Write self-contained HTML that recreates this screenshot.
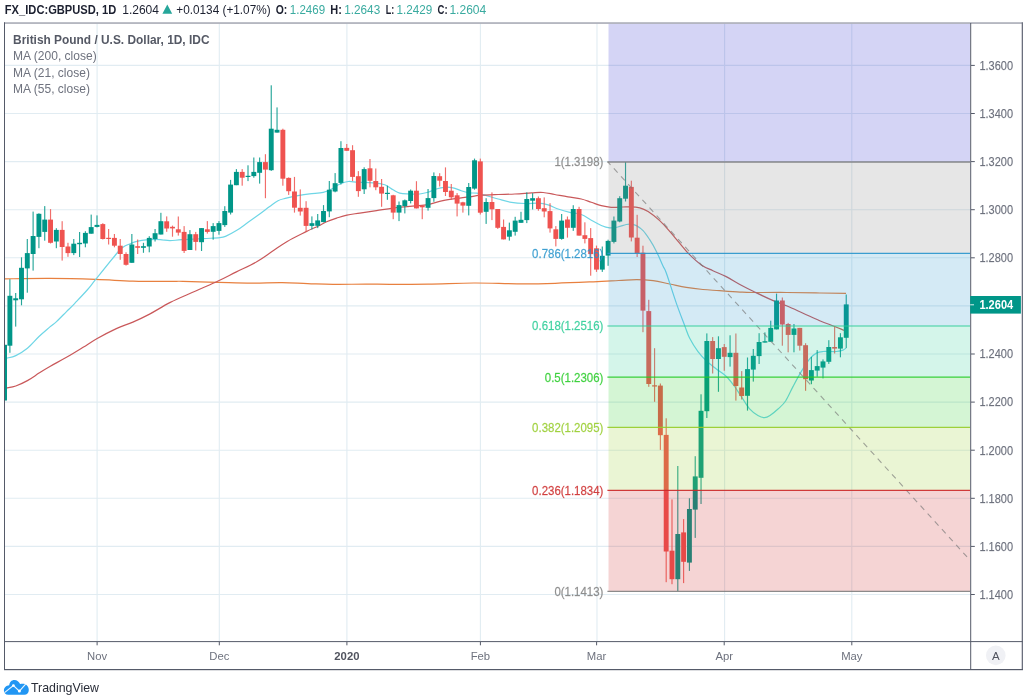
<!DOCTYPE html>
<html lang="en"><head><meta charset="utf-8"><title>GBPUSD chart</title>
<style>html,body{margin:0;padding:0;background:#fff;}body{width:1023px;height:699px;overflow:hidden;font-family:"Liberation Sans",sans-serif;}svg{display:block}</style>
</head><body>
<svg width="1023" height="699" viewBox="0 0 1023 699" font-family="'Liberation Sans', sans-serif">
<rect width="1023" height="699" fill="#fff"/>
<defs><clipPath id="cp"><rect x="5" y="23.5" width="965.2" height="617.6"/></clipPath></defs>
<g stroke="#e1ecf2" stroke-width="1.1"><line x1="5" x2="970" y1="65.4" y2="65.4"/><line x1="5" x2="970" y1="113.5" y2="113.5"/><line x1="5" x2="970" y1="161.6" y2="161.6"/><line x1="5" x2="970" y1="209.7" y2="209.7"/><line x1="5" x2="970" y1="257.8" y2="257.8"/><line x1="5" x2="970" y1="305.9" y2="305.9"/><line x1="5" x2="970" y1="354.0" y2="354.0"/><line x1="5" x2="970" y1="402.1" y2="402.1"/><line x1="5" x2="970" y1="450.2" y2="450.2"/><line x1="5" x2="970" y1="498.3" y2="498.3"/><line x1="5" x2="970" y1="546.4" y2="546.4"/><line x1="5" x2="970" y1="594.5" y2="594.5"/><line x1="97.1" x2="97.1" y1="23.5" y2="641"/><line x1="219.3" x2="219.3" y1="23.5" y2="641"/><line x1="346.9" x2="346.9" y1="23.5" y2="641"/><line x1="480.4" x2="480.4" y1="23.5" y2="641"/><line x1="597.0" x2="597.0" y1="23.5" y2="641"/><line x1="724.6" x2="724.6" y1="23.5" y2="641"/><line x1="851.8" x2="851.8" y1="23.5" y2="641"/></g>
<g clip-path="url(#cp)">
<path d="M5.0,278.9C13.1,278.8 33.6,278.3 49.9,278.4C66.2,278.5 80.5,278.9 95.5,279.4C110.5,279.9 119.6,280.7 133.0,281.1C146.4,281.5 161.0,281.4 170.0,281.4C179.0,281.4 174.3,281.1 183.0,281.3C191.7,281.5 206.2,282.1 218.6,282.4C231.0,282.7 240.3,283.1 251.7,283.1C263.1,283.1 272.0,282.5 282.1,282.6C292.2,282.7 298.4,283.3 307.6,283.6C316.8,283.9 322.5,284.3 333.0,284.4C343.5,284.5 355.7,284.1 366.0,284.1C376.3,284.1 378.8,284.3 390.0,284.3C401.2,284.3 412.9,284.3 428.0,284.1C443.1,283.9 457.9,283.1 473.9,283.0C489.9,282.9 502.4,283.7 517.0,283.8C531.6,283.9 541.5,283.7 555.2,283.3C568.9,282.9 581.9,282.3 593.3,281.8C604.7,281.3 610.9,280.9 618.7,280.5C626.5,280.1 630.3,279.6 636.5,279.6C642.7,279.6 647.1,279.9 653.1,280.7C659.1,281.5 663.7,282.8 669.7,284.0C675.7,285.2 680.3,286.4 686.3,287.4C692.3,288.4 696.9,288.9 702.9,289.5C708.9,290.1 712.9,290.2 719.6,290.7C726.3,291.2 734.0,291.8 740.0,292.1C746.0,292.4 744.8,292.4 753.2,292.5C761.6,292.6 774.5,292.4 786.5,292.5C798.5,292.6 809.0,292.9 819.7,293.0C830.4,293.1 841.3,293.2 846.0,293.3" fill="none" stroke="#e8803f" stroke-width="1.2"/>
<path d="M5.0,358.6C5.3,358.5 4.7,358.6 6.6,358.1C8.5,357.6 12.1,357.4 15.8,355.6C19.5,353.8 23.2,351.6 27.4,348.2C31.6,344.8 35.0,340.3 39.0,336.5C43.0,332.7 46.8,329.6 49.9,326.9C53.0,324.2 53.5,324.4 56.5,321.6C59.5,318.8 63.2,314.9 66.5,311.6C69.8,308.3 71.1,307.2 74.8,303.3C78.5,299.4 83.5,294.2 87.2,290.0C90.9,285.8 90.3,286.2 95.5,279.7C100.7,273.2 111.3,259.8 116.3,254.0C121.2,248.2 120.6,249.1 123.0,247.3C125.4,245.5 126.9,245.1 129.6,244.0C132.3,242.9 134.9,241.9 137.9,241.2C140.9,240.5 143.0,240.2 146.2,239.9C149.3,239.6 152.6,239.4 155.4,239.4C158.2,239.4 159.4,239.6 162.0,239.8C164.6,240.0 166.5,240.6 170.0,240.6C173.5,240.6 175.6,240.1 181.6,239.7C187.6,239.3 196.3,239.0 203.2,238.6C210.1,238.2 215.6,238.2 219.8,237.7C224.0,237.2 223.5,237.2 226.5,235.9C229.5,234.6 232.5,233.0 236.4,230.6C240.3,228.2 243.9,225.3 248.1,222.3C252.3,219.3 255.8,216.8 259.7,214.0C263.6,211.2 266.4,208.9 269.7,206.5C273.0,204.1 275.0,202.2 278.0,200.7C281.0,199.2 282.7,199.1 286.3,198.2C289.9,197.3 293.7,196.5 297.9,195.7C302.1,194.9 305.0,194.4 309.6,193.8C314.2,193.2 319.3,193.2 323.3,192.3C327.3,191.4 328.6,190.5 331.6,189.0C334.6,187.5 336.9,185.3 339.9,184.0C342.9,182.7 344.9,181.8 348.2,181.5C351.5,181.2 353.7,182.1 358.2,182.3C362.7,182.5 368.3,182.4 373.1,182.8C377.9,183.2 381.2,183.5 384.8,184.8C388.4,186.1 390.4,188.3 393.1,189.8C395.8,191.3 396.7,192.3 399.7,193.1C402.7,193.9 406.1,193.8 409.7,194.0C413.3,194.2 416.4,194.3 419.7,194.0C423.0,193.7 425.0,193.2 428.0,192.3C431.0,191.4 433.3,189.9 436.3,189.0C439.3,188.1 441.6,187.5 444.6,187.3C447.6,187.1 449.9,187.2 452.9,187.8C455.9,188.4 458.2,189.8 461.2,190.7C464.2,191.6 466.7,192.4 469.5,192.8C472.3,193.2 474.2,192.8 477.0,193.2C479.8,193.6 481.1,194.2 484.9,195.2C488.7,196.2 493.4,197.7 498.2,199.0C503.0,200.3 506.7,201.5 511.5,202.3C516.3,203.1 520.0,203.3 524.8,203.5C529.6,203.7 533.9,203.0 538.1,203.2C542.3,203.4 544.5,203.8 548.1,204.8C551.7,205.8 554.2,207.7 558.1,209.0C562.0,210.3 565.5,211.3 569.7,212.3C573.9,213.3 577.4,213.1 581.3,214.5C585.2,215.9 587.7,218.2 591.3,220.2C594.9,222.2 598.0,224.1 601.3,225.5C604.6,226.9 606.6,227.6 609.6,227.9C612.6,228.2 614.9,227.6 617.9,227.0C620.9,226.4 623.7,225.0 626.2,224.5C628.7,224.0 630.2,224.1 632.0,224.3C633.8,224.5 634.4,224.5 636.4,225.6C638.4,226.7 640.7,228.1 643.1,230.6C645.5,233.1 647.3,236.0 649.7,239.7C652.1,243.4 654.0,246.7 656.4,251.4C658.8,256.1 661.2,262.1 663.0,266.0C664.8,269.9 664.0,266.5 666.4,273.2C668.8,279.9 673.0,293.7 676.3,303.1C679.6,312.5 682.3,319.3 684.7,325.6C687.1,331.9 687.3,333.6 689.7,338.3C692.1,343.0 695.0,347.6 698.0,351.6C701.0,355.6 703.0,357.6 706.3,360.7C709.6,363.8 712.7,366.2 716.3,369.0C719.9,371.8 723.0,373.4 726.3,376.5C729.6,379.6 731.9,382.9 734.6,386.5C737.3,390.1 738.5,392.4 741.2,396.4C743.9,400.4 746.6,405.5 749.6,408.9C752.6,412.3 755.2,413.9 757.9,415.5C760.6,417.1 762.3,417.7 764.5,417.7C766.7,417.7 767.6,417.1 770.0,415.5C772.4,413.9 775.2,411.6 778.0,409.0C780.8,406.4 782.9,405.1 785.6,401.0C788.3,396.9 790.3,391.7 793.1,386.4C795.9,381.1 798.4,376.3 801.4,371.4C804.4,366.4 807.0,362.2 809.7,358.9C812.4,355.6 814.0,354.4 816.4,353.1C818.8,351.8 819.4,351.8 823.0,351.5C826.6,351.2 832.7,351.8 836.3,351.5C839.9,351.2 841.3,350.7 843.0,350.1C844.7,349.5 845.5,348.5 846.0,348.1" fill="none" stroke="#6fd6e6" stroke-width="1.2"/>
<path d="M5.0,388.3C5.3,388.2 4.7,388.4 6.6,388.0C8.5,387.6 12.1,387.3 15.8,386.0C19.5,384.7 23.2,382.9 27.4,380.6C31.6,378.3 35.0,375.7 39.0,373.1C43.0,370.5 44.9,369.2 49.9,366.4C54.9,363.6 60.5,360.7 66.5,357.3C72.5,353.9 77.6,350.7 83.1,347.3C88.6,343.9 91.2,341.9 97.2,338.5C103.2,335.1 109.9,331.6 116.3,328.6C122.7,325.6 126.9,324.7 132.9,322.1C138.9,319.5 142.9,317.6 149.6,314.1C156.3,310.6 162.0,306.6 170.3,302.4C178.6,298.2 187.0,294.9 195.7,291.0C204.4,287.1 211.3,284.2 218.6,280.8C225.9,277.4 229.5,275.3 236.4,271.9C243.3,268.5 250.3,265.5 256.7,261.8C263.1,258.1 266.5,255.3 272.0,251.6C277.5,247.9 281.0,245.0 287.2,241.4C293.4,237.8 300.6,234.4 306.2,231.6C311.8,228.8 314.6,227.8 318.3,226.0C322.0,224.2 323.3,223.1 326.6,221.7C329.9,220.3 332.9,219.3 336.6,218.1C340.3,216.9 342.7,216.0 346.9,215.1C351.1,214.2 354.5,213.9 359.8,213.1C365.1,212.3 370.5,211.5 376.5,210.6C382.5,209.7 387.1,208.9 393.1,208.1C399.1,207.3 403.7,207.0 409.7,206.4C415.7,205.8 420.3,205.8 426.3,204.8C432.3,203.8 436.9,201.8 442.9,200.6C448.9,199.4 454.7,198.8 459.6,198.1C464.5,197.4 466.0,197.3 470.0,196.8C474.0,196.3 476.5,195.6 481.6,195.2C486.7,194.8 492.2,194.7 498.2,194.5C504.2,194.3 508.9,194.3 514.9,194.0C520.9,193.7 526.4,193.2 531.5,192.9C536.6,192.6 538.9,192.2 543.1,192.5C547.3,192.8 550.2,193.7 554.7,194.5C559.2,195.3 563.2,196.1 568.0,196.9C572.8,197.7 577.1,198.0 581.3,199.0C585.5,200.0 587.7,201.1 591.3,202.3C594.9,203.5 597.7,204.8 601.3,205.7C604.9,206.6 607.3,207.1 611.2,207.3C615.1,207.5 619.6,207.1 622.9,207.0C626.2,206.9 626.8,206.7 629.8,206.8C632.8,206.9 636.5,207.0 639.8,207.8C643.1,208.6 644.5,209.2 648.1,211.5C651.7,213.8 655.8,217.0 659.7,220.6C663.6,224.2 666.1,227.3 669.7,231.4C673.3,235.5 676.0,238.9 679.6,243.1C683.2,247.3 685.7,250.8 689.6,254.7C693.5,258.6 697.1,262.0 701.3,264.9C705.5,267.8 708.4,268.6 712.9,270.7C717.4,272.8 721.2,274.0 726.2,276.6C731.2,279.2 735.9,282.4 740.8,285.0C745.7,287.6 748.0,288.8 753.2,291.3C758.4,293.8 763.8,296.5 769.8,299.1C775.8,301.7 780.5,303.3 786.5,305.8C792.5,308.3 797.1,310.5 803.1,313.2C809.1,315.9 814.0,318.3 819.7,320.7C825.4,323.1 830.4,324.8 834.7,326.5C839.0,328.2 841.8,329.4 843.8,330.2C845.8,331.0 845.6,330.9 846.0,331.0" fill="none" stroke="#c9585a" stroke-width="1.2"/>
<rect x="3.97" y="344.8" width="1.15" height="55.7" fill="#009688" opacity="0.85"/><rect x="2.10" y="344.8" width="4.9" height="55.7" fill="#009688"/><rect x="9.31" y="279.2" width="1.15" height="73.6" fill="#009688" opacity="0.85"/><rect x="7.43" y="295.8" width="4.9" height="49.9" fill="#009688"/><rect x="15.11" y="293.0" width="1.15" height="33.6" fill="#009688" opacity="0.85"/><rect x="13.24" y="298.3" width="4.9" height="2.0" fill="#009688"/><rect x="20.92" y="257.3" width="1.15" height="48.0" fill="#009688" opacity="0.85"/><rect x="19.05" y="267.8" width="4.9" height="31.5" fill="#009688"/><rect x="26.73" y="239.0" width="1.15" height="53.7" fill="#009688" opacity="0.85"/><rect x="24.85" y="253.1" width="4.9" height="15.3" fill="#009688"/><rect x="32.54" y="211.6" width="1.15" height="59.0" fill="#009688" opacity="0.85"/><rect x="30.66" y="236.0" width="4.9" height="18.0" fill="#009688"/><rect x="38.34" y="213.3" width="1.15" height="34.9" fill="#009688" opacity="0.85"/><rect x="36.47" y="213.8" width="4.9" height="23.1" fill="#009688"/><rect x="44.15" y="206.1" width="1.15" height="34.6" fill="#009688" opacity="0.85"/><rect x="42.28" y="219.6" width="4.9" height="12.3" fill="#009688"/><rect x="49.96" y="209.1" width="1.15" height="34.4" fill="#ef5350" opacity="0.85"/><rect x="48.09" y="219.6" width="4.9" height="23.2" fill="#ef5350"/><rect x="55.77" y="228.2" width="1.15" height="20.0" fill="#009688" opacity="0.85"/><rect x="53.89" y="229.9" width="4.9" height="11.6" fill="#009688"/><rect x="61.58" y="221.2" width="1.15" height="39.4" fill="#ef5350" opacity="0.85"/><rect x="59.70" y="229.9" width="4.9" height="17.1" fill="#ef5350"/><rect x="67.38" y="242.8" width="1.15" height="14.0" fill="#ef5350" opacity="0.85"/><rect x="65.51" y="246.5" width="4.9" height="6.6" fill="#ef5350"/><rect x="73.19" y="239.0" width="1.15" height="16.1" fill="#009688" opacity="0.85"/><rect x="71.32" y="243.7" width="4.9" height="9.4" fill="#009688"/><rect x="79.00" y="232.0" width="1.15" height="25.0" fill="#009688" opacity="0.85"/><rect x="77.13" y="242.8" width="4.9" height="1.4" fill="#009688"/><rect x="84.81" y="231.2" width="1.15" height="16.1" fill="#009688" opacity="0.85"/><rect x="82.93" y="232.9" width="4.9" height="10.6" fill="#009688"/><rect x="90.62" y="214.6" width="1.15" height="19.1" fill="#009688" opacity="0.85"/><rect x="88.74" y="227.1" width="4.9" height="6.6" fill="#009688"/><rect x="96.42" y="215.4" width="1.15" height="12.0" fill="#009688" opacity="0.85"/><rect x="94.55" y="224.9" width="4.9" height="2.0" fill="#009688"/><rect x="102.23" y="223.2" width="1.15" height="16.3" fill="#ef5350" opacity="0.85"/><rect x="100.36" y="224.1" width="4.9" height="14.9" fill="#ef5350"/><rect x="108.04" y="229.0" width="1.15" height="15.5" fill="#ef5350" opacity="0.85"/><rect x="106.17" y="237.8" width="4.9" height="1.2" fill="#ef5350"/><rect x="113.85" y="234.0" width="1.15" height="13.3" fill="#ef5350" opacity="0.85"/><rect x="111.97" y="237.9" width="4.9" height="7.8" fill="#ef5350"/><rect x="119.66" y="239.0" width="1.15" height="20.8" fill="#ef5350" opacity="0.85"/><rect x="117.78" y="245.7" width="4.9" height="8.3" fill="#ef5350"/><rect x="125.46" y="252.3" width="1.15" height="13.3" fill="#ef5350" opacity="0.85"/><rect x="123.59" y="254.0" width="4.9" height="10.8" fill="#ef5350"/><rect x="131.27" y="234.0" width="1.15" height="28.8" fill="#009688" opacity="0.85"/><rect x="129.40" y="244.5" width="4.9" height="18.3" fill="#009688"/><rect x="137.08" y="239.5" width="1.15" height="14.5" fill="#ef5350" opacity="0.85"/><rect x="135.21" y="246.2" width="4.9" height="1.6" fill="#ef5350"/><rect x="142.89" y="242.8" width="1.15" height="10.0" fill="#009688" opacity="0.85"/><rect x="141.01" y="246.2" width="4.9" height="1.6" fill="#009688"/><rect x="148.70" y="236.2" width="1.15" height="16.1" fill="#009688" opacity="0.85"/><rect x="146.82" y="237.9" width="4.9" height="8.6" fill="#009688"/><rect x="154.50" y="229.0" width="1.15" height="12.5" fill="#009688" opacity="0.85"/><rect x="152.63" y="233.2" width="4.9" height="5.8" fill="#009688"/><rect x="160.31" y="212.8" width="1.15" height="21.7" fill="#009688" opacity="0.85"/><rect x="158.44" y="221.2" width="4.9" height="13.3" fill="#009688"/><rect x="166.12" y="216.4" width="1.15" height="15.4" fill="#ef5350" opacity="0.85"/><rect x="164.25" y="221.3" width="4.9" height="7.2" fill="#ef5350"/><rect x="171.93" y="225.6" width="1.15" height="11.1" fill="#ef5350" opacity="0.85"/><rect x="170.05" y="226.8" width="4.9" height="1.6" fill="#ef5350"/><rect x="177.74" y="216.5" width="1.15" height="19.1" fill="#ef5350" opacity="0.85"/><rect x="175.86" y="229.3" width="4.9" height="3.3" fill="#ef5350"/><rect x="183.55" y="226.1" width="1.15" height="26.9" fill="#ef5350" opacity="0.85"/><rect x="181.67" y="231.9" width="4.9" height="19.0" fill="#ef5350"/><rect x="189.35" y="230.1" width="1.15" height="19.9" fill="#009688" opacity="0.85"/><rect x="187.48" y="234.2" width="4.9" height="15.8" fill="#009688"/><rect x="195.16" y="231.9" width="1.15" height="18.6" fill="#ef5350" opacity="0.85"/><rect x="193.29" y="234.2" width="4.9" height="7.7" fill="#ef5350"/><rect x="200.97" y="228.1" width="1.15" height="22.9" fill="#009688" opacity="0.85"/><rect x="199.09" y="228.1" width="4.9" height="14.1" fill="#009688"/><rect x="206.78" y="221.1" width="1.15" height="12.5" fill="#ef5350" opacity="0.85"/><rect x="204.90" y="229.3" width="4.9" height="2.6" fill="#ef5350"/><rect x="212.59" y="223.1" width="1.15" height="16.6" fill="#009688" opacity="0.85"/><rect x="210.71" y="226.1" width="4.9" height="5.7" fill="#009688"/><rect x="218.39" y="221.1" width="1.15" height="13.6" fill="#009688" opacity="0.85"/><rect x="216.52" y="223.1" width="4.9" height="7.8" fill="#009688"/><rect x="224.20" y="206.2" width="1.15" height="20.7" fill="#009688" opacity="0.85"/><rect x="222.33" y="211.0" width="4.9" height="14.1" fill="#009688"/><rect x="230.01" y="179.9" width="1.15" height="34.6" fill="#009688" opacity="0.85"/><rect x="228.13" y="184.6" width="4.9" height="28.0" fill="#009688"/><rect x="235.82" y="169.1" width="1.15" height="16.1" fill="#009688" opacity="0.85"/><rect x="233.94" y="171.9" width="4.9" height="13.3" fill="#009688"/><rect x="241.62" y="169.1" width="1.15" height="16.6" fill="#ef5350" opacity="0.85"/><rect x="239.75" y="171.9" width="4.9" height="5.8" fill="#ef5350"/><rect x="247.43" y="165.3" width="1.15" height="15.8" fill="#009688" opacity="0.85"/><rect x="245.56" y="175.8" width="4.9" height="1.2" fill="#009688"/><rect x="253.24" y="157.5" width="1.15" height="20.2" fill="#009688" opacity="0.85"/><rect x="251.37" y="171.9" width="4.9" height="4.2" fill="#009688"/><rect x="259.05" y="157.5" width="1.15" height="26.1" fill="#009688" opacity="0.85"/><rect x="257.17" y="162.1" width="4.9" height="10.7" fill="#009688"/><rect x="264.86" y="154.2" width="1.15" height="44.0" fill="#ef5350" opacity="0.85"/><rect x="262.98" y="162.1" width="4.9" height="7.5" fill="#ef5350"/><rect x="270.67" y="85.3" width="1.15" height="85.6" fill="#009688" opacity="0.85"/><rect x="268.79" y="128.7" width="4.9" height="41.5" fill="#009688"/><rect x="276.47" y="107.4" width="1.15" height="25.2" fill="#009688" opacity="0.85"/><rect x="274.60" y="129.8" width="4.9" height="2.8" fill="#009688"/><rect x="282.28" y="128.7" width="1.15" height="57.0" fill="#ef5350" opacity="0.85"/><rect x="280.41" y="129.8" width="4.9" height="48.9" fill="#ef5350"/><rect x="288.09" y="177.4" width="1.15" height="17.5" fill="#ef5350" opacity="0.85"/><rect x="286.21" y="177.9" width="4.9" height="13.3" fill="#ef5350"/><rect x="293.90" y="176.9" width="1.15" height="35.7" fill="#ef5350" opacity="0.85"/><rect x="292.02" y="191.5" width="4.9" height="16.2" fill="#ef5350"/><rect x="299.70" y="189.4" width="1.15" height="26.2" fill="#ef5350" opacity="0.85"/><rect x="297.83" y="207.8" width="4.9" height="3.7" fill="#ef5350"/><rect x="305.51" y="201.2" width="1.15" height="30.6" fill="#ef5350" opacity="0.85"/><rect x="303.64" y="207.8" width="4.9" height="18.1" fill="#ef5350"/><rect x="311.32" y="216.4" width="1.15" height="13.1" fill="#009688" opacity="0.85"/><rect x="309.45" y="223.2" width="4.9" height="2.7" fill="#009688"/><rect x="317.13" y="214.0" width="1.15" height="14.1" fill="#009688" opacity="0.85"/><rect x="315.25" y="220.4" width="4.9" height="5.4" fill="#009688"/><rect x="322.94" y="205.1" width="1.15" height="17.2" fill="#009688" opacity="0.85"/><rect x="321.06" y="211.0" width="4.9" height="11.1" fill="#009688"/><rect x="328.75" y="181.0" width="1.15" height="36.2" fill="#009688" opacity="0.85"/><rect x="326.87" y="189.7" width="4.9" height="21.7" fill="#009688"/><rect x="334.55" y="173.1" width="1.15" height="19.2" fill="#009688" opacity="0.85"/><rect x="332.68" y="183.2" width="4.9" height="8.3" fill="#009688"/><rect x="340.36" y="141.2" width="1.15" height="43.3" fill="#009688" opacity="0.85"/><rect x="338.49" y="148.0" width="4.9" height="34.9" fill="#009688"/><rect x="346.17" y="144.0" width="1.15" height="6.8" fill="#ef5350" opacity="0.85"/><rect x="344.29" y="147.9" width="4.9" height="2.9" fill="#ef5350"/><rect x="351.98" y="145.2" width="1.15" height="35.9" fill="#ef5350" opacity="0.85"/><rect x="350.10" y="150.2" width="4.9" height="26.7" fill="#ef5350"/><rect x="357.79" y="171.1" width="1.15" height="25.7" fill="#ef5350" opacity="0.85"/><rect x="355.91" y="176.2" width="4.9" height="14.9" fill="#ef5350"/><rect x="363.59" y="167.3" width="1.15" height="26.7" fill="#009688" opacity="0.85"/><rect x="361.72" y="169.1" width="4.9" height="20.2" fill="#009688"/><rect x="369.40" y="159.0" width="1.15" height="28.3" fill="#ef5350" opacity="0.85"/><rect x="367.53" y="168.3" width="4.9" height="12.5" fill="#ef5350"/><rect x="375.21" y="168.5" width="1.15" height="21.7" fill="#ef5350" opacity="0.85"/><rect x="373.33" y="181.0" width="4.9" height="6.3" fill="#ef5350"/><rect x="381.02" y="179.0" width="1.15" height="27.8" fill="#ef5350" opacity="0.85"/><rect x="379.14" y="186.8" width="4.9" height="6.8" fill="#ef5350"/><rect x="386.82" y="185.7" width="1.15" height="14.1" fill="#009688" opacity="0.85"/><rect x="384.95" y="192.8" width="4.9" height="1.2" fill="#009688"/><rect x="392.63" y="194.8" width="1.15" height="24.4" fill="#ef5350" opacity="0.85"/><rect x="390.76" y="195.3" width="4.9" height="17.3" fill="#ef5350"/><rect x="398.44" y="201.5" width="1.15" height="19.6" fill="#009688" opacity="0.85"/><rect x="396.57" y="205.1" width="4.9" height="7.5" fill="#009688"/><rect x="404.25" y="199.5" width="1.15" height="13.9" fill="#009688" opacity="0.85"/><rect x="402.37" y="200.3" width="4.9" height="5.8" fill="#009688"/><rect x="410.06" y="189.5" width="1.15" height="13.9" fill="#009688" opacity="0.85"/><rect x="408.18" y="190.7" width="4.9" height="10.3" fill="#009688"/><rect x="415.87" y="181.2" width="1.15" height="27.2" fill="#ef5350" opacity="0.85"/><rect x="413.99" y="190.7" width="4.9" height="17.7" fill="#ef5350"/><rect x="421.67" y="205.6" width="1.15" height="13.6" fill="#ef5350" opacity="0.85"/><rect x="419.80" y="205.6" width="4.9" height="1.7" fill="#ef5350"/><rect x="427.48" y="189.0" width="1.15" height="21.6" fill="#009688" opacity="0.85"/><rect x="425.61" y="198.1" width="4.9" height="9.7" fill="#009688"/><rect x="433.29" y="172.4" width="1.15" height="29.4" fill="#009688" opacity="0.85"/><rect x="431.41" y="176.0" width="4.9" height="22.1" fill="#009688"/><rect x="439.10" y="173.2" width="1.15" height="13.3" fill="#ef5350" opacity="0.85"/><rect x="437.22" y="176.2" width="4.9" height="4.5" fill="#ef5350"/><rect x="444.90" y="167.4" width="1.15" height="28.6" fill="#ef5350" opacity="0.85"/><rect x="443.03" y="181.0" width="4.9" height="11.0" fill="#ef5350"/><rect x="450.71" y="184.0" width="1.15" height="15.8" fill="#ef5350" opacity="0.85"/><rect x="448.84" y="190.7" width="4.9" height="6.6" fill="#ef5350"/><rect x="456.52" y="193.1" width="1.15" height="23.3" fill="#ef5350" opacity="0.85"/><rect x="454.65" y="195.3" width="4.9" height="8.3" fill="#ef5350"/><rect x="462.33" y="201.8" width="1.15" height="10.8" fill="#ef5350" opacity="0.85"/><rect x="460.45" y="202.3" width="4.9" height="3.3" fill="#ef5350"/><rect x="468.14" y="183.0" width="1.15" height="32.4" fill="#009688" opacity="0.85"/><rect x="466.26" y="187.0" width="4.9" height="18.8" fill="#009688"/><rect x="473.94" y="158.6" width="1.15" height="31.1" fill="#009688" opacity="0.85"/><rect x="472.07" y="160.3" width="4.9" height="28.3" fill="#009688"/><rect x="479.75" y="158.6" width="1.15" height="55.9" fill="#ef5350" opacity="0.85"/><rect x="477.88" y="161.4" width="4.9" height="51.3" fill="#ef5350"/><rect x="485.56" y="198.2" width="1.15" height="25.7" fill="#009688" opacity="0.85"/><rect x="483.69" y="202.0" width="4.9" height="9.8" fill="#009688"/><rect x="491.37" y="192.4" width="1.15" height="27.7" fill="#ef5350" opacity="0.85"/><rect x="489.49" y="202.0" width="4.9" height="7.3" fill="#ef5350"/><rect x="497.18" y="209.0" width="1.15" height="19.9" fill="#ef5350" opacity="0.85"/><rect x="495.30" y="209.0" width="4.9" height="18.8" fill="#ef5350"/><rect x="502.99" y="219.5" width="1.15" height="19.9" fill="#ef5350" opacity="0.85"/><rect x="501.11" y="226.9" width="4.9" height="12.5" fill="#ef5350"/><rect x="508.79" y="222.6" width="1.15" height="18.0" fill="#009688" opacity="0.85"/><rect x="506.92" y="230.3" width="4.9" height="6.4" fill="#009688"/><rect x="514.60" y="216.8" width="1.15" height="18.8" fill="#009688" opacity="0.85"/><rect x="512.73" y="220.6" width="4.9" height="11.2" fill="#009688"/><rect x="520.41" y="211.8" width="1.15" height="11.0" fill="#009688" opacity="0.85"/><rect x="518.53" y="219.8" width="4.9" height="3.0" fill="#009688"/><rect x="526.22" y="192.4" width="1.15" height="30.7" fill="#009688" opacity="0.85"/><rect x="524.34" y="199.0" width="4.9" height="21.1" fill="#009688"/><rect x="532.02" y="193.2" width="1.15" height="16.3" fill="#009688" opacity="0.85"/><rect x="530.15" y="198.2" width="4.9" height="2.5" fill="#009688"/><rect x="537.83" y="196.5" width="1.15" height="14.2" fill="#ef5350" opacity="0.85"/><rect x="535.96" y="198.2" width="4.9" height="10.8" fill="#ef5350"/><rect x="543.64" y="197.4" width="1.15" height="19.9" fill="#ef5350" opacity="0.85"/><rect x="541.77" y="208.2" width="4.9" height="3.3" fill="#ef5350"/><rect x="549.45" y="203.2" width="1.15" height="29.4" fill="#ef5350" opacity="0.85"/><rect x="547.57" y="211.1" width="4.9" height="17.3" fill="#ef5350"/><rect x="555.26" y="226.1" width="1.15" height="20.3" fill="#ef5350" opacity="0.85"/><rect x="553.38" y="229.3" width="4.9" height="9.6" fill="#ef5350"/><rect x="561.06" y="214.0" width="1.15" height="25.7" fill="#009688" opacity="0.85"/><rect x="559.19" y="220.6" width="4.9" height="18.3" fill="#009688"/><rect x="566.87" y="216.5" width="1.15" height="21.1" fill="#ef5350" opacity="0.85"/><rect x="565.00" y="219.5" width="4.9" height="8.3" fill="#ef5350"/><rect x="572.68" y="205.2" width="1.15" height="25.7" fill="#009688" opacity="0.85"/><rect x="570.81" y="209.0" width="4.9" height="18.8" fill="#009688"/><rect x="578.49" y="206.8" width="1.15" height="28.8" fill="#ef5350" opacity="0.85"/><rect x="576.61" y="209.0" width="4.9" height="26.6" fill="#ef5350"/><rect x="584.30" y="222.3" width="1.15" height="21.1" fill="#ef5350" opacity="0.85"/><rect x="582.42" y="235.2" width="4.9" height="3.7" fill="#ef5350"/><rect x="590.10" y="228.1" width="1.15" height="47.6" fill="#ef5350" opacity="0.85"/><rect x="588.23" y="238.1" width="4.9" height="16.0" fill="#ef5350"/><rect x="595.91" y="245.6" width="1.15" height="26.3" fill="#ef5350" opacity="0.85"/><rect x="594.04" y="248.3" width="4.9" height="21.3" fill="#ef5350"/><rect x="601.72" y="246.5" width="1.15" height="25.4" fill="#009688" opacity="0.85"/><rect x="599.85" y="255.8" width="4.9" height="13.8" fill="#009688"/><rect x="607.53" y="239.7" width="1.15" height="26.1" fill="#009688" opacity="0.85"/><rect x="605.65" y="240.9" width="4.9" height="14.7" fill="#009688"/><rect x="613.34" y="216.5" width="1.15" height="26.9" fill="#009688" opacity="0.85"/><rect x="611.46" y="220.6" width="4.9" height="21.3" fill="#009688"/><rect x="619.14" y="196.2" width="1.15" height="26.1" fill="#009688" opacity="0.85"/><rect x="617.27" y="198.2" width="4.9" height="23.3" fill="#009688"/><rect x="624.95" y="162.0" width="1.15" height="39.5" fill="#009688" opacity="0.85"/><rect x="623.08" y="185.7" width="4.9" height="13.0" fill="#009688"/><rect x="630.76" y="180.7" width="1.15" height="60.7" fill="#ef5350" opacity="0.85"/><rect x="628.89" y="186.9" width="4.9" height="50.6" fill="#ef5350"/><rect x="636.57" y="214.8" width="1.15" height="42.2" fill="#ef5350" opacity="0.85"/><rect x="634.69" y="237.7" width="4.9" height="15.8" fill="#ef5350"/><rect x="642.38" y="245.7" width="1.15" height="86.5" fill="#ef5350" opacity="0.85"/><rect x="640.50" y="252.7" width="4.9" height="57.9" fill="#ef5350"/><rect x="648.18" y="299.8" width="1.15" height="87.0" fill="#ef5350" opacity="0.85"/><rect x="646.31" y="311.1" width="4.9" height="72.9" fill="#ef5350"/><rect x="653.99" y="348.2" width="1.15" height="53.6" fill="#ef5350" opacity="0.85"/><rect x="652.12" y="385.3" width="4.9" height="1.2" fill="#ef5350"/><rect x="659.80" y="383.5" width="1.15" height="66.4" fill="#ef5350" opacity="0.85"/><rect x="657.93" y="385.6" width="4.9" height="49.6" fill="#ef5350"/><rect x="665.61" y="418.3" width="1.15" height="163.9" fill="#ef5350" opacity="0.85"/><rect x="663.73" y="434.9" width="4.9" height="116.6" fill="#ef5350"/><rect x="671.42" y="499.4" width="1.15" height="84.8" fill="#ef5350" opacity="0.85"/><rect x="669.54" y="550.7" width="4.9" height="28.5" fill="#ef5350"/><rect x="677.22" y="466.0" width="1.15" height="125.0" fill="#009688" opacity="0.85"/><rect x="675.35" y="534.0" width="4.9" height="45.2" fill="#009688"/><rect x="683.03" y="519.1" width="1.15" height="64.0" fill="#ef5350" opacity="0.85"/><rect x="681.16" y="532.4" width="4.9" height="29.4" fill="#ef5350"/><rect x="688.84" y="498.3" width="1.15" height="72.6" fill="#009688" opacity="0.85"/><rect x="686.97" y="509.0" width="4.9" height="53.6" fill="#009688"/><rect x="694.65" y="456.2" width="1.15" height="81.7" fill="#009688" opacity="0.85"/><rect x="692.77" y="476.4" width="4.9" height="33.2" fill="#009688"/><rect x="700.46" y="394.3" width="1.15" height="109.7" fill="#009688" opacity="0.85"/><rect x="698.58" y="410.8" width="4.9" height="67.0" fill="#009688"/><rect x="706.26" y="333.4" width="1.15" height="84.6" fill="#009688" opacity="0.85"/><rect x="704.39" y="341.0" width="4.9" height="70.2" fill="#009688"/><rect x="712.07" y="337.1" width="1.15" height="36.4" fill="#ef5350" opacity="0.85"/><rect x="710.20" y="341.0" width="4.9" height="18.0" fill="#ef5350"/><rect x="717.88" y="336.3" width="1.15" height="55.5" fill="#009688" opacity="0.85"/><rect x="716.01" y="348.2" width="4.9" height="10.8" fill="#009688"/><rect x="723.69" y="344.0" width="1.15" height="26.8" fill="#ef5350" opacity="0.85"/><rect x="721.81" y="347.1" width="4.9" height="9.7" fill="#ef5350"/><rect x="729.50" y="335.3" width="1.15" height="31.3" fill="#009688" opacity="0.85"/><rect x="727.62" y="352.8" width="4.9" height="4.3" fill="#009688"/><rect x="735.30" y="333.5" width="1.15" height="67.1" fill="#ef5350" opacity="0.85"/><rect x="733.43" y="352.8" width="4.9" height="33.2" fill="#ef5350"/><rect x="741.11" y="371.1" width="1.15" height="28.4" fill="#ef5350" opacity="0.85"/><rect x="739.24" y="387.5" width="4.9" height="8.5" fill="#ef5350"/><rect x="746.92" y="357.5" width="1.15" height="53.1" fill="#009688" opacity="0.85"/><rect x="745.05" y="369.1" width="4.9" height="26.7" fill="#009688"/><rect x="752.73" y="349.0" width="1.15" height="32.6" fill="#009688" opacity="0.85"/><rect x="750.85" y="355.8" width="4.9" height="13.8" fill="#009688"/><rect x="758.54" y="333.2" width="1.15" height="30.8" fill="#009688" opacity="0.85"/><rect x="756.66" y="342.0" width="4.9" height="14.1" fill="#009688"/><rect x="764.34" y="332.4" width="1.15" height="10.2" fill="#009688" opacity="0.85"/><rect x="762.47" y="341.2" width="4.9" height="1.4" fill="#009688"/><rect x="770.15" y="320.7" width="1.15" height="21.1" fill="#009688" opacity="0.85"/><rect x="768.28" y="327.9" width="4.9" height="13.9" fill="#009688"/><rect x="775.96" y="293.6" width="1.15" height="35.8" fill="#009688" opacity="0.85"/><rect x="774.09" y="300.5" width="4.9" height="28.9" fill="#009688"/><rect x="781.77" y="297.5" width="1.15" height="48.2" fill="#ef5350" opacity="0.85"/><rect x="779.89" y="300.5" width="4.9" height="24.0" fill="#ef5350"/><rect x="787.58" y="322.9" width="1.15" height="29.4" fill="#ef5350" opacity="0.85"/><rect x="785.70" y="324.0" width="4.9" height="10.9" fill="#ef5350"/><rect x="793.38" y="324.0" width="1.15" height="28.3" fill="#009688" opacity="0.85"/><rect x="791.51" y="328.5" width="4.9" height="6.4" fill="#009688"/><rect x="799.19" y="327.9" width="1.15" height="22.7" fill="#ef5350" opacity="0.85"/><rect x="797.32" y="327.9" width="4.9" height="17.8" fill="#ef5350"/><rect x="805.00" y="343.2" width="1.15" height="47.6" fill="#ef5350" opacity="0.85"/><rect x="803.13" y="345.2" width="4.9" height="34.0" fill="#ef5350"/><rect x="810.81" y="356.8" width="1.15" height="27.4" fill="#009688" opacity="0.85"/><rect x="808.93" y="370.1" width="4.9" height="10.4" fill="#009688"/><rect x="816.62" y="350.1" width="1.15" height="26.6" fill="#009688" opacity="0.85"/><rect x="814.74" y="366.1" width="4.9" height="4.5" fill="#009688"/><rect x="822.42" y="359.4" width="1.15" height="19.0" fill="#009688" opacity="0.85"/><rect x="820.55" y="361.4" width="4.9" height="6.2" fill="#009688"/><rect x="828.23" y="340.2" width="1.15" height="23.7" fill="#009688" opacity="0.85"/><rect x="826.36" y="347.0" width="4.9" height="14.8" fill="#009688"/><rect x="834.04" y="326.5" width="1.15" height="27.0" fill="#ef5350" opacity="0.85"/><rect x="832.17" y="347.0" width="4.9" height="1.6" fill="#ef5350"/><rect x="839.85" y="333.2" width="1.15" height="24.1" fill="#009688" opacity="0.85"/><rect x="837.97" y="337.3" width="4.9" height="11.3" fill="#009688"/><rect x="845.66" y="294.5" width="1.15" height="53.6" fill="#009688" opacity="0.85"/><rect x="843.78" y="304.4" width="4.9" height="33.4" fill="#009688"/>
<rect x="608.5" y="23.5" width="361.7" height="138.6" fill="#2828cc" fill-opacity="0.2"/>
<rect x="608.5" y="162.1" width="361.7" height="91.3" fill="#808080" fill-opacity="0.2"/>
<rect x="608.5" y="253.4" width="361.7" height="72.6" fill="#2895cc" fill-opacity="0.2"/>
<rect x="608.5" y="326.0" width="361.7" height="51.2" fill="#28cc95" fill-opacity="0.2"/>
<rect x="608.5" y="377.2" width="361.7" height="50.1" fill="#28cc28" fill-opacity="0.2"/>
<rect x="608.5" y="427.3" width="361.7" height="63.0" fill="#95cc28" fill-opacity="0.2"/>
<rect x="608.5" y="490.3" width="361.7" height="101.0" fill="#cc2828" fill-opacity="0.2"/>
<line x1="607.6" y1="161.6" x2="968.5" y2="558.5" stroke="#757575" stroke-width="1.1" stroke-dasharray="5.6,5" stroke-dashoffset="1.3" opacity="0.65"/>
<line x1="607.4" x2="970.2" y1="162.1" y2="162.1" stroke="#808080" stroke-width="1.5" opacity="0.9"/>
<line x1="607.4" x2="970.2" y1="253.4" y2="253.4" stroke="#2895cc" stroke-width="1.2" opacity="0.9"/>
<line x1="607.4" x2="970.2" y1="326.0" y2="326.0" stroke="#28cc95" stroke-width="1.2" opacity="0.9"/>
<line x1="607.4" x2="970.2" y1="377.2" y2="377.2" stroke="#28cc28" stroke-width="1.2" opacity="0.9"/>
<line x1="607.4" x2="970.2" y1="427.3" y2="427.3" stroke="#95cc28" stroke-width="1.2" opacity="0.9"/>
<line x1="607.4" x2="970.2" y1="490.3" y2="490.3" stroke="#cc2828" stroke-width="1.2" opacity="0.9"/>
<line x1="607.4" x2="970.2" y1="591.3" y2="591.3" stroke="#808080" stroke-width="1.2" opacity="0.9"/>
</g>
<text x="603.4" y="166.4" font-size="12.4" text-anchor="end" textLength="49.0" lengthAdjust="spacingAndGlyphs" fill="#808080" fill-opacity="0.85" stroke="#808080" stroke-width="0.3" stroke-opacity="0.6">1(1.3198)</text>
<text x="603.4" y="257.7" font-size="12.4" text-anchor="end" textLength="71.3" lengthAdjust="spacingAndGlyphs" fill="#2895cc" fill-opacity="0.85" stroke="#2895cc" stroke-width="0.3" stroke-opacity="0.6">0.786(1.2816)</text>
<text x="603.4" y="330.3" font-size="12.4" text-anchor="end" textLength="71.3" lengthAdjust="spacingAndGlyphs" fill="#28cc95" fill-opacity="0.85" stroke="#28cc95" stroke-width="0.3" stroke-opacity="0.6">0.618(1.2516)</text>
<text x="603.4" y="381.5" font-size="12.4" text-anchor="end" textLength="58.6" lengthAdjust="spacingAndGlyphs" fill="#28cc28" fill-opacity="0.85" stroke="#28cc28" stroke-width="0.3" stroke-opacity="0.6">0.5(1.2306)</text>
<text x="603.4" y="431.6" font-size="12.4" text-anchor="end" textLength="71.3" lengthAdjust="spacingAndGlyphs" fill="#95cc28" fill-opacity="0.85" stroke="#95cc28" stroke-width="0.3" stroke-opacity="0.6">0.382(1.2095)</text>
<text x="603.4" y="494.6" font-size="12.4" text-anchor="end" textLength="71.3" lengthAdjust="spacingAndGlyphs" fill="#cc2828" fill-opacity="0.85" stroke="#cc2828" stroke-width="0.3" stroke-opacity="0.6">0.236(1.1834)</text>
<text x="603.4" y="595.6" font-size="12.4" text-anchor="end" textLength="49.0" lengthAdjust="spacingAndGlyphs" fill="#808080" fill-opacity="0.85" stroke="#808080" stroke-width="0.3" stroke-opacity="0.6">0(1.1413)</text>
<rect x="4" y="22.3" width="1018.6" height="1.5" fill="#a3a6b1"/>
<rect x="4" y="22.3" width="1" height="647.7" fill="#555a69"/>
<rect x="1021.7" y="22.3" width="1.3" height="647.7" fill="#6b6f7d"/>
<rect x="970.2" y="23" width="1" height="647" fill="#555a69"/>
<rect x="4" y="641.1" width="1018.6" height="1" fill="#555a69"/>
<rect x="4" y="669" width="1019" height="1.2" fill="#555a69"/>
<rect x="971" y="64.9" width="3.8" height="1" fill="#555a69"/>
<text x="979.4" y="69.7" font-size="12" textLength="33.6" lengthAdjust="spacingAndGlyphs" fill="#6e727e" stroke="#6e727e" stroke-width="0.25" stroke-opacity="0.6">1.3600</text>
<rect x="971" y="113.0" width="3.8" height="1" fill="#555a69"/>
<text x="979.4" y="117.8" font-size="12" textLength="33.6" lengthAdjust="spacingAndGlyphs" fill="#6e727e" stroke="#6e727e" stroke-width="0.25" stroke-opacity="0.6">1.3400</text>
<rect x="971" y="161.1" width="3.8" height="1" fill="#555a69"/>
<text x="979.4" y="165.9" font-size="12" textLength="33.6" lengthAdjust="spacingAndGlyphs" fill="#6e727e" stroke="#6e727e" stroke-width="0.25" stroke-opacity="0.6">1.3200</text>
<rect x="971" y="209.2" width="3.8" height="1" fill="#555a69"/>
<text x="979.4" y="214.0" font-size="12" textLength="33.6" lengthAdjust="spacingAndGlyphs" fill="#6e727e" stroke="#6e727e" stroke-width="0.25" stroke-opacity="0.6">1.3000</text>
<rect x="971" y="257.3" width="3.8" height="1" fill="#555a69"/>
<text x="979.4" y="262.1" font-size="12" textLength="33.6" lengthAdjust="spacingAndGlyphs" fill="#6e727e" stroke="#6e727e" stroke-width="0.25" stroke-opacity="0.6">1.2800</text>
<rect x="971" y="305.4" width="3.8" height="1" fill="#555a69"/>
<text x="979.4" y="310.2" font-size="12" textLength="33.6" lengthAdjust="spacingAndGlyphs" fill="#6e727e" stroke="#6e727e" stroke-width="0.25" stroke-opacity="0.6">1.2600</text>
<rect x="971" y="353.5" width="3.8" height="1" fill="#555a69"/>
<text x="979.4" y="358.3" font-size="12" textLength="33.6" lengthAdjust="spacingAndGlyphs" fill="#6e727e" stroke="#6e727e" stroke-width="0.25" stroke-opacity="0.6">1.2400</text>
<rect x="971" y="401.6" width="3.8" height="1" fill="#555a69"/>
<text x="979.4" y="406.4" font-size="12" textLength="33.6" lengthAdjust="spacingAndGlyphs" fill="#6e727e" stroke="#6e727e" stroke-width="0.25" stroke-opacity="0.6">1.2200</text>
<rect x="971" y="449.7" width="3.8" height="1" fill="#555a69"/>
<text x="979.4" y="454.5" font-size="12" textLength="33.6" lengthAdjust="spacingAndGlyphs" fill="#6e727e" stroke="#6e727e" stroke-width="0.25" stroke-opacity="0.6">1.2000</text>
<rect x="971" y="497.8" width="3.8" height="1" fill="#555a69"/>
<text x="979.4" y="502.6" font-size="12" textLength="33.6" lengthAdjust="spacingAndGlyphs" fill="#6e727e" stroke="#6e727e" stroke-width="0.25" stroke-opacity="0.6">1.1800</text>
<rect x="971" y="545.9" width="3.8" height="1" fill="#555a69"/>
<text x="979.4" y="550.7" font-size="12" textLength="33.6" lengthAdjust="spacingAndGlyphs" fill="#6e727e" stroke="#6e727e" stroke-width="0.25" stroke-opacity="0.6">1.1600</text>
<rect x="971" y="594.0" width="3.8" height="1" fill="#555a69"/>
<text x="979.4" y="598.8" font-size="12" textLength="33.6" lengthAdjust="spacingAndGlyphs" fill="#6e727e" stroke="#6e727e" stroke-width="0.25" stroke-opacity="0.6">1.1400</text>
<rect x="970.2" y="296" width="50.7" height="17.6" fill="#009688"/>
<rect x="970.2" y="304.3" width="3.8" height="1" fill="#d9f0ee"/>
<text x="979.4" y="309.1" font-size="12" font-weight="bold" textLength="33.8" lengthAdjust="spacingAndGlyphs" fill="#fff">1.2604</text>
<rect x="96.6" y="642" width="1" height="3.3" fill="#555a69"/>
<text x="97.1" y="660.4" font-size="11.3" text-anchor="middle" fill="#6e727e">Nov</text>
<rect x="218.8" y="642" width="1" height="3.3" fill="#555a69"/>
<text x="219.3" y="660.4" font-size="11.3" text-anchor="middle" fill="#6e727e">Dec</text>
<rect x="346.4" y="642" width="1" height="3.3" fill="#555a69"/>
<text x="346.9" y="660.4" font-size="11.3" text-anchor="middle" font-weight="bold" fill="#50535e">2020</text>
<rect x="479.9" y="642" width="1" height="3.3" fill="#555a69"/>
<text x="480.4" y="660.4" font-size="11.3" text-anchor="middle" fill="#6e727e">Feb</text>
<rect x="596.1" y="642" width="1" height="3.3" fill="#555a69"/>
<text x="596.6" y="660.4" font-size="11.3" text-anchor="middle" fill="#6e727e">Mar</text>
<rect x="723.7" y="642" width="1" height="3.3" fill="#555a69"/>
<text x="724.2" y="660.4" font-size="11.3" text-anchor="middle" fill="#6e727e">Apr</text>
<rect x="851.3" y="642" width="1" height="3.3" fill="#555a69"/>
<text x="851.8" y="660.4" font-size="11.3" text-anchor="middle" fill="#6e727e">May</text>
<circle cx="995.8" cy="655.4" r="9.8" fill="#f0f1f5"/>
<text x="995.8" y="659.5" font-size="11.5" text-anchor="middle" fill="#50535e">A</text>
<text x="4.8" y="13.6" font-size="12" font-weight="bold" textLength="111.5" lengthAdjust="spacingAndGlyphs" fill="#1c2030">FX_IDC:GBPUSD, 1D</text>
<text x="122.2" y="13.6" font-size="12" textLength="36.8" lengthAdjust="spacingAndGlyphs" fill="#1c2030">1.2604</text>
<path d="M162.4,13.8 L172.2,13.8 L167.3,4.6 Z" fill="#26a69a"/>
<text x="176.3" y="13.6" font-size="12" textLength="94.3" lengthAdjust="spacingAndGlyphs" fill="#1c2030">+0.0134 (+1.07%)</text>
<text x="275.7" y="13.6" font-size="12" font-weight="bold" textLength="11.6" lengthAdjust="spacingAndGlyphs" fill="#1c2030">O:</text>
<text x="289.8" y="13.6" font-size="12" textLength="35.3" lengthAdjust="spacingAndGlyphs" fill="#3aaba0">1.2469</text>
<text x="330.3" y="13.6" font-size="12" font-weight="bold" textLength="11.6" lengthAdjust="spacingAndGlyphs" fill="#1c2030">H:</text>
<text x="344.2" y="13.6" font-size="12" textLength="36" lengthAdjust="spacingAndGlyphs" fill="#3aaba0">1.2643</text>
<text x="385.8" y="13.6" font-size="12" font-weight="bold" textLength="8.5" lengthAdjust="spacingAndGlyphs" fill="#1c2030">L:</text>
<text x="396.6" y="13.6" font-size="12" textLength="35.7" lengthAdjust="spacingAndGlyphs" fill="#3aaba0">1.2429</text>
<text x="437.5" y="13.6" font-size="12" font-weight="bold" textLength="10.1" lengthAdjust="spacingAndGlyphs" fill="#1c2030">C:</text>
<text x="449.4" y="13.6" font-size="12" textLength="36.9" lengthAdjust="spacingAndGlyphs" fill="#3aaba0">1.2604</text>
<text x="13.1" y="43.7" font-size="12.3" font-weight="bold" textLength="196.4" lengthAdjust="spacingAndGlyphs" fill="#555965">British Pound / U.S. Dollar, 1D, IDC</text>
<text x="13.1" y="60.3" font-size="12.2" textLength="83.6" lengthAdjust="spacingAndGlyphs" fill="#6e727e">MA (200, close)</text>
<text x="13.1" y="76.7" font-size="12.2" textLength="76.8" lengthAdjust="spacingAndGlyphs" fill="#6e727e">MA (21, close)</text>
<text x="13.1" y="93.1" font-size="12.2" textLength="76.8" lengthAdjust="spacingAndGlyphs" fill="#6e727e">MA (55, close)</text>
<g transform="translate(3.9,679.9)"><path d="M4.5,14.8 C1.5,14.8 0,12.8 0,10.5 C0,7.8 2.2,5.6 5.3,5.3 C5.6,2.2 7.6,0 10.5,0 C13.2,0 15.2,1.7 16.2,4.2 C17,3.9 18,3.8 19,3.8 C22.2,3.8 24.9,6.5 24.9,10 C24.9,13 23,14.8 20.5,14.8 Z" fill="#2196f3"/><path d="M0.6,12.7 L9.5,5.6 L15.5,11.2 L21.7,4.3" fill="none" stroke="#fff" stroke-width="1.1" stroke-opacity="0.9"/><circle cx="9.5" cy="5.6" r="1.35" fill="#fff"/><circle cx="15.5" cy="11.2" r="1.5" fill="#fff"/></g>
<text x="31" y="691.7" font-size="13" textLength="68" lengthAdjust="spacingAndGlyphs" fill="#2a2e39">TradingView</text>
</svg>
</body></html>
